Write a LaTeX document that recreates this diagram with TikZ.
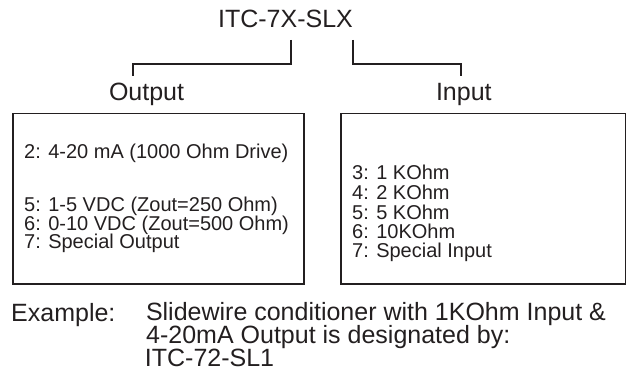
\documentclass[tikz,border=0pt]{standalone}
\usepackage{fontspec}
\setmainfont{Liberation Sans}
\definecolor{ink}{RGB}{35,31,32}
\tikzset{
  bigtext/.style={font=\fontsize{25}{30}\selectfont, inner sep=0pt, anchor=base west, text=ink},
  smalltext/.style={font=\fontsize{20}{24}\selectfont, inner sep=0pt, anchor=base west, text=ink},
  boxframe/.style={draw=ink, line width=1.5pt, inner sep=0pt, anchor=north west},
  link/.style={draw=ink, line width=1.5pt}
}
\begin{document}
\begin{tikzpicture}[x=1pt,y=-1pt]
\useasboundingbox (0,0) rectangle (626,374);
% title
\node[bigtext, anchor=base] (title) at (285.5,28) {ITC-7X-SLX};
\node[bigtext] (outlbl) at (108.8,100.7) {Output};
\node[bigtext] (inlbl) at (435.8,100.7) {Input};
% bracket
\coordinate (tL) at (291,40);
\coordinate (tR) at (353,40);
\coordinate (oL) at (133,76);
\coordinate (iL) at (461,76);
\draw[link] (tL) -- ++(0,24) -| (oL);
\draw[link] (tR) -- ++(0,24) -| (iL);
% boxes
\node[boxframe, minimum width=291pt, minimum height=170pt] (outbox) at (12,113) {};
\node[boxframe, minimum width=284.5pt, minimum height=170pt] (inbox) at (340,113) {};
% output options
\node[smalltext] (o2) at (24,158.3) {2: 4-20 mA (1000 Ohm Drive)};
\node[smalltext] (o5) at (24,211.7) {5: 1-5 VDC (Zout=250 Ohm)};
\node[smalltext] (o6) at (24,230) {6: 0-10 VDC (Zout=500 Ohm)};
\node[smalltext] (o7) at (24,248.3) {7: Special Output};
% input options
\node[smalltext] (i3) at (352,180) {3: 1 KOhm};
\node[smalltext] (i4) at (352,199.5) {4: 2 KOhm};
\node[smalltext] (i5) at (352,219) {5: 5 KOhm};
\node[smalltext] (i6) at (352,238.5) {6: 10KOhm};
\node[smalltext] (i7) at (352,257.5) {7: Special Input};
% example
\node[bigtext] (ex) at (11,321) {Example:};
\node[bigtext] (ex1) at (145.8,320) {Slidewire conditioner with 1KOhm Input \&};
\node[bigtext] (ex2) at (146,343.3) {4-20mA Output is designated by:};
\node[bigtext] (ex3) at (144.7,366.7) {ITC-72-SL1};
\end{tikzpicture}
\end{document}
